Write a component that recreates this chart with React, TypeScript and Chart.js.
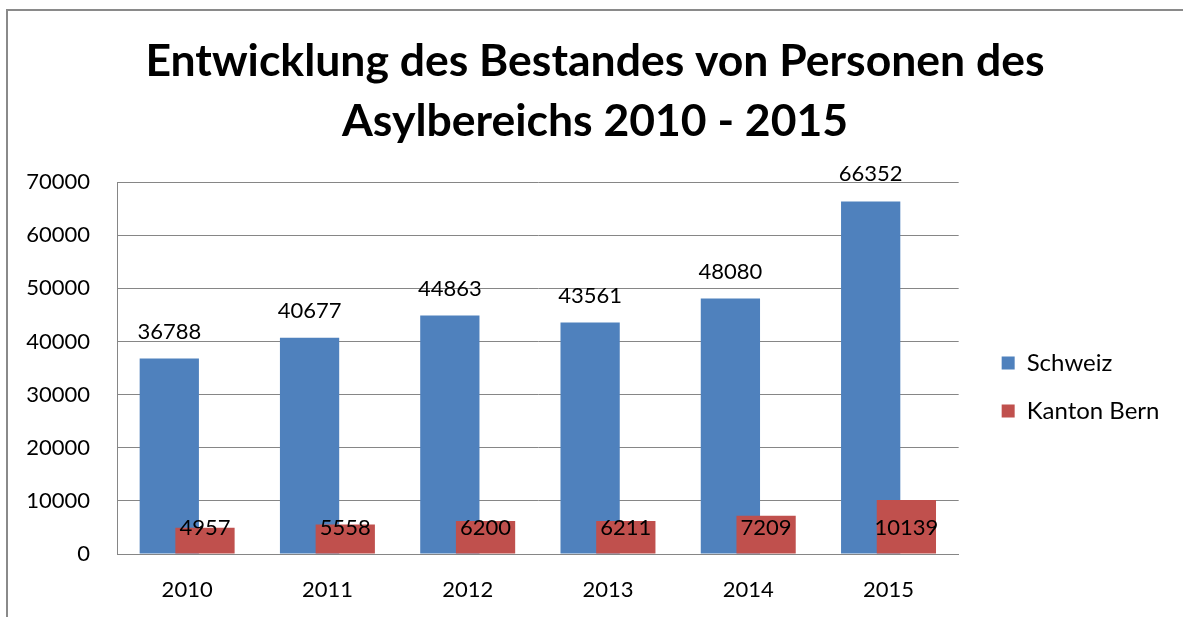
import React, { useEffect, useRef } from "react";
import { Chart, registerables } from "chart.js";

Chart.register(...registerables);

const titleLines = ["Entwicklung des Bestandes von Personen des", "Asylbereichs 2010 - 2015"];
const years = ["2010", "2011", "2012", "2013", "2014", "2015"];
const schweiz = [36788, 40677, 44863, 43561, 48080, 66352];
const kantonBern = [4957, 5558, 6200, 6211, 7209, 10139];
const seriesNames = ["Schweiz", "Kanton Bern"];
const yMin = 0;
const yMax = 70000;
const yStep = 10000;

const BLUE = "#4F81BD";
const RED = "#C0504D";
const GRID = "#868686";
const FONT = "Lato";

const orderAndLabels = {
  id: "orderAndLabels",
  beforeDatasetsDraw(chart: any) {
    const ctx = chart.ctx;
    // draw Schweiz first, Kanton Bern on top (Excel overlap look)
    [0, 1].forEach((i) => chart.getDatasetMeta(i).controller.draw());
    ctx.save();
    ctx.font = `22px ${FONT}`;
    ctx.fillStyle = "#000";
    ctx.textAlign = "center";
    ctx.textBaseline = "middle";
    const m0 = chart.getDatasetMeta(0);
    m0.data.forEach((bar: any, j: number) => {
      ctx.fillText(String(schweiz[j]), bar.x, bar.y - 27);
    });
    const m1 = chart.getDatasetMeta(1);
    const y0 = chart.scales.y.getPixelForValue(0);
    m1.data.forEach((bar: any, j: number) => {
      ctx.fillText(String(kantonBern[j]), bar.x, y0 - 26);
    });
    ctx.restore();
    return false;
  },
};

export default function App() {
  const ref = useRef<HTMLCanvasElement | null>(null);

  useEffect(() => {
    let chart: Chart | null = null;
    let cancelled = false;
    const make = () => {
      if (cancelled || !ref.current) return;
      chart = new Chart(ref.current, {
        type: "bar",
        data: {
          labels: years,
          datasets: [
            { label: seriesNames[0], data: schweiz, backgroundColor: BLUE, borderWidth: 0 },
            { label: seriesNames[1], data: kantonBern, backgroundColor: RED, borderWidth: 0 },
          ],
        },
        options: {
          animation: false,
          responsive: false,
          maintainAspectRatio: false,
          categoryPercentage: 0.509,
          barPercentage: 1.66,
          layout: { padding: { left: 21, right: 14, top: 0, bottom: 14 } },
          plugins: {
            tooltip: { enabled: false },
            title: {
              display: true,
              text: titleLines,
              color: "#000",
              font: { family: FONT, size: 44.5, weight: "bold", lineHeight: 60 / 44.5 },
              padding: { top: 32, bottom: 30 },
            },
            legend: {
              display: true,
              position: "right",
              title: {
                display: true,
                text: " ",
                padding: 0,
                font: { family: FONT, size: 10, lineHeight: 171 / 10 },
              },
              labels: {
                color: "#000",
                font: { family: FONT, size: 24 },
                boxWidth: 13,
                boxHeight: 13,
                padding: 24,
              },
            },
          },
          scales: {
            x: {
              grid: { display: false, drawTicks: false },
              border: { display: true, color: GRID, width: 1 },
              ticks: { color: "#000", font: { family: FONT, size: 22 }, padding: 23 },
              afterFit: (s: any) => {
                s.height = 49;
              },
            },
            y: {
              min: yMin,
              max: yMax,
              ticks: {
                stepSize: yStep,
                color: "#000",
                font: { family: FONT, size: 22 },
                padding: 27,
                callback: (v: any) => String(v),
              },
              grid: { color: GRID, lineWidth: 1, drawTicks: false },
              border: { display: true, color: GRID, width: 1 },
              afterFit: (s: any) => {
                s.width = 96;
              },
            },
            pad: {
              type: "linear",
              position: "right",
              display: true,
              grid: { display: false, drawTicks: false },
              border: { display: false },
              ticks: { display: false },
              afterFit: (s: any) => {
                s.width = 19;
              },
            },
          },
        },
        plugins: [orderAndLabels],
      } as any);
    };
    const fontsApi = (document as any).fonts;
    if (fontsApi && fontsApi.load) {
      Promise.all([
        fontsApi.load(`bold 44px ${FONT}`),
        fontsApi.load(`22px ${FONT}`),
      ]).then(make, make);
    } else {
      make();
    }
    return () => {
      cancelled = true;
      if (chart) chart.destroy();
    };
  }, []);

  return (
    <div style={{ position: "fixed", left: 0, top: 0, width: 1183, height: 617, background: "#fff", overflow: "hidden" }}>
      <div
        style={{
          position: "absolute",
          left: 6,
          top: 9,
          width: 1200,
          height: 700,
          borderLeft: "2px solid #8a8a8a",
          borderTop: "2px solid #8a8a8a",
        }}
      />
      <canvas ref={ref} width={1183} height={617} style={{ position: "absolute", left: 0, top: 0, width: 1183, height: 617 }} />
    </div>
  );
}
